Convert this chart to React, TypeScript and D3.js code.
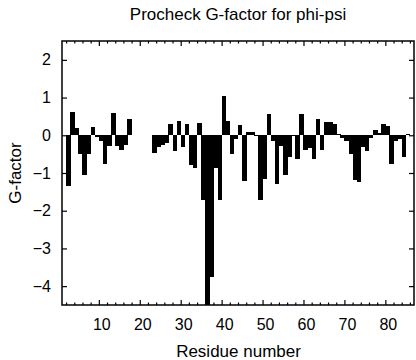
import React, { useEffect, useRef } from "react";
import * as d3 from "d3";

// residue numbers (phi-psi is undefined for the first and last residue)
const residues = [
	2, 3, 4, 5, 6, 7, 8, 9, 10, 11, 12, 13, 14, 15, 16, 17, 18, 19, 20, 21, 22,
	23, 24, 25, 26, 27, 28, 29, 30, 31, 32, 33, 34, 35, 36, 37, 38, 39, 40, 41,
	42, 43, 44, 45, 46, 47, 48, 49, 50, 51, 52, 53, 54, 55, 56, 57, 58, 59, 60,
	61, 62, 63, 64, 65, 66, 67, 68, 69, 70, 71, 72, 73, 74, 75, 76, 77, 78, 79,
	80, 81, 82, 83, 84, 85,
];

// G-factor per residue, null where no value was plotted
const gFactor = [
	-1.35, 0.62, 0.19, -0.49, -1.04, -0.49, 0.21, -0.05, -0.14, -0.76, -0.29,
	0.59, -0.29, -0.4, -0.27, 0.44, null, null, null, null, null, -0.47, -0.31,
	-0.27, -0.2, 0.3, -0.41, 0.37, -0.31, 0.3, -0.78, -0.88, 0.33, -1.72, -4.5,
	-3.77, -0.86, -1.72, 1.05, 0.37, -0.49, -0.11, 0.26, -1.2, 0.08, 0.08, -0.03,
	-1.72, -1.17, 0.56, -0.14, -1.28, -0.29, -1.06, -0.58, -0.03, -0.63, 0.56,
	-0.38, -0.34, -0.62, 0.42, -0.38, 0.35, 0.35, 0.31, 0.04, -0.06, -0.15, -0.5,
	-1.18, -1.24, -0.3, -0.41, -0.07, 0.15, 0.06, 0.3, 0.24, -0.76, -0.16, -0.11,
	-0.58, 0.03,
];

const xTicks = [10, 20, 30, 40, 50, 60, 70, 80];
const xMinorTicks = [
	2, 4, 6, 8, 12, 14, 16, 18, 22, 24, 26, 28, 32, 34, 36, 38, 42, 44, 46, 48,
	52, 54, 56, 58, 62, 64, 66, 68, 72, 74, 76, 78, 82, 84, 86,
];
const yTicks = [2, 1, 0, -1, -2, -3, -4];

const FONT = "'Liberation Sans', Arial, Helvetica, sans-serif";

const App = () => {
	const ref = useRef<SVGSVGElement>(null);

	useEffect(() => {
		const svg = d3.select(ref.current);
		svg.selectAll("*").remove();

		const left = 62,
			right = 414,
			top = 41,
			bottom = 305;

		const x = d3.scaleLinear().domain([1, 87]).range([left, right]);
		const y = d3.scaleLinear().domain([-4.5, 2.5]).range([bottom, top]);

		const data = residues
			.map((r, i) => ({ r, v: gFactor[i] }))
			.filter((d) => d.v !== null) as { r: number; v: number }[];

		// bars, drawn edge to edge so neighbours merge into solid blocks
		svg.append("g")
			.attr("shape-rendering", "crispEdges")
			.selectAll("rect")
			.data(data)
			.enter()
			.append("rect")
			.attr("x", (d) => x(d.r))
			.attr("width", (d) => x(d.r + 1) - x(d.r) + 0.4)
			.attr("y", (d) => y(Math.max(0, d.v)))
			.attr("height", (d) => Math.abs(y(Math.max(d.v, -4.5)) - y(0)))
			.attr("fill", "#000");

		// bottom axis with labels, ticks pointing inward
		const gx = svg
			.append("g")
			.attr("transform", `translate(0, ${bottom})`)
			.call(
				d3
					.axisBottom(x)
					.tickValues(xTicks)
					.tickSize(-5)
					.tickPadding(13.6)
					.tickFormat(d3.format("d"))
			);
		gx.selectAll("text").attr("dx", 2.5);

		svg.append("g")
			.attr("transform", `translate(0, ${bottom})`)
			.call(d3.axisBottom(x).tickValues(xMinorTicks).tickSize(-2.5).tickFormat(() => ""));

		svg.append("g")
			.attr("transform", `translate(0, ${top})`)
			.call(d3.axisTop(x).tickValues(xTicks).tickSize(-5).tickFormat(() => ""));
		svg.append("g")
			.attr("transform", `translate(0, ${top})`)
			.call(d3.axisTop(x).tickValues(xMinorTicks).tickSize(-2.5).tickFormat(() => ""));

		svg.append("g")
			.attr("transform", `translate(${left}, 0)`)
			.call(
				d3
					.axisLeft(y)
					.tickValues(yTicks)
					.tickSize(-5)
					.tickPadding(11)
					.tickFormat(d3.format("d"))
			);

		svg.append("g")
			.attr("transform", `translate(${right}, 0)`)
			.call(d3.axisRight(y).tickValues(yTicks).tickSize(-5).tickFormat(() => ""));

		svg.selectAll(".domain").remove();
		svg.selectAll(".tick line").attr("stroke", "#000").attr("stroke-width", 1.2);
		svg.selectAll(".tick text")
			.attr("font-family", FONT)
			.attr("font-size", 16)
			.attr("fill", "#000");

		// frame
		svg.append("rect")
			.attr("x", left)
			.attr("y", top)
			.attr("width", right - left)
			.attr("height", bottom - top)
			.attr("fill", "none")
			.attr("stroke", "#000")
			.attr("stroke-width", 1.5);

		svg.append("text")
			.attr("x", (left + right) / 2)
			.attr("y", 20)
			.attr("text-anchor", "middle")
			.attr("font-family", FONT)
			.attr("font-size", 17)
			.text("Procheck G-factor for phi-psi");

		svg.append("text")
			.attr("x", (left + right) / 2 + 0.5)
			.attr("y", 357)
			.attr("text-anchor", "middle")
			.attr("font-family", FONT)
			.attr("font-size", 17)
			.text("Residue number");

		svg.append("text")
			.attr("transform", `translate(21, ${(top + bottom) / 2}) rotate(-90)`)
			.attr("text-anchor", "middle")
			.attr("font-family", FONT)
			.attr("font-size", 17)
			.text("G-factor");
	}, []);

	return (
		<svg
			ref={ref}
			width={416}
			height={360}
			style={{ position: "absolute", left: 0, top: 0, background: "#fff" }}
		></svg>
	);
};

export default App;
